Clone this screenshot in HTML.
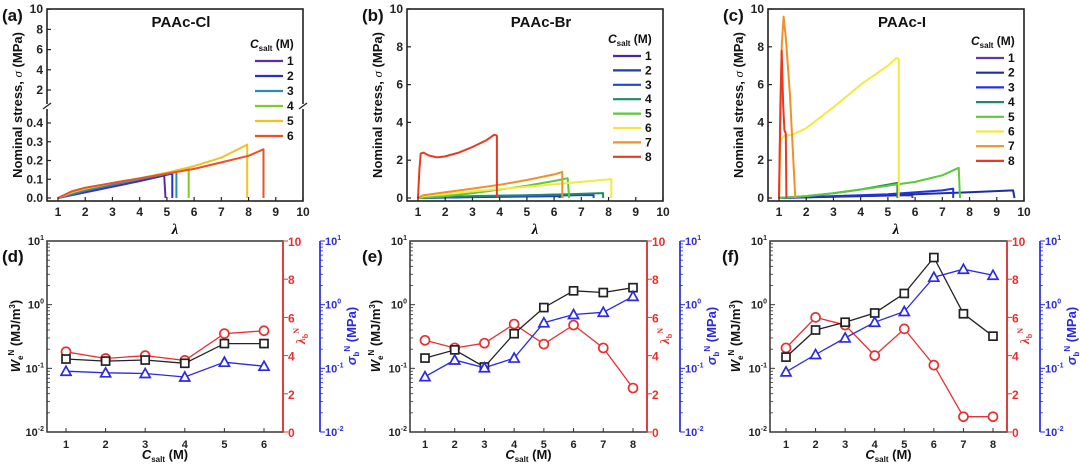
<!DOCTYPE html>
<html><head><meta charset="utf-8"><style>
html,body{margin:0;padding:0;background:#fff}
svg{display:block;font-family:"Liberation Sans",Arial,sans-serif}
</style></head><body>
<svg id="fig" width="1080" height="465" viewBox="0 0 1080 465" xmlns="http://www.w3.org/2000/svg"></svg>
<script>
// ---------- DATA ----------
const legendA = ['1','2','3','4','5','6'];
const colorsA = ['#5a2ca8','#2434c0','#2a8cb4','#7ccc30','#f2c21e','#ea5226'];
const curvesA = [
 [[1,0],[2,0.03],[3,0.06],[4,0.09],[4.9,0.12],[4.95,0]],
 [[1,0],[2,0.035],[3,0.065],[4,0.095],[5.2,0.13],[5.2,0]],
 [[1,0],[2,0.04],[3,0.07],[4,0.1],[5.35,0.14],[5.35,0]],
 [[1,0],[1.5,0.03],[2,0.05],[3,0.08],[4,0.105],[5,0.135],[5.8,0.16],[5.8,0]],
 [[1,0],[1.5,0.03],[2,0.05],[3,0.08],[4,0.105],[5,0.135],[6,0.17],[7,0.215],[7.95,0.285],[7.95,0]],
 [[1,0],[1.5,0.035],[2,0.055],[3,0.08],[4,0.105],[5,0.13],[6,0.155],[7,0.19],[8,0.225],[8.55,0.26],[8.55,0]]
];
const legendB = ['1','2','3','4','5','6','7','8'];
const colorsB = ['#4a2a9c','#1c3ea8','#2242e0','#1f8a6a','#5cc83a','#f2ea40','#f0902a','#e83a20'];
const curvesB = [
 [[1,0],[3,0.08],[5,0.14],[6.2,0.18],[6.2,0]],
 [[1,0],[3,0.05],[5,0.08],[6.3,0.1],[6.3,0]],
 [[1,0],[4,0.08],[6,0.13],[7.45,0.16],[7.45,0]],
 [[1,0],[3,0.1],[5,0.15],[6.5,0.2],[7.8,0.26],[7.8,0]],
 [[1,0],[2,0.1],[3,0.25],[4,0.45],[5,0.65],[6,0.9],[6.5,1.05],[6.55,0]],
 [[1,0],[1.2,0.1],[3,0.35],[5,0.6],[7,0.85],[8.1,1.0],[8.1,0]],
 [[1,0],[1.2,0.15],[2,0.3],[3,0.5],[4,0.7],[5,0.95],[6,1.25],[6.3,1.38],[6.3,0]],
 [[1,0],[1.05,1.5],[1.1,2.35],[1.2,2.4],[1.4,2.25],[1.7,2.15],[2,2.2],[2.5,2.4],[3,2.7],[3.5,3.05],[3.8,3.35],[3.9,3.3],[3.9,0]]
];
const colorsC = ['#5a3aa8','#1c2ea0','#2234e0','#1f8a6a','#5cc83a','#f2ea40','#f0902a','#e83a20'];
const curvesC = [
 [[1,0],[3,0.08],[5.9,0.15],[5.9,0]],
 [[1,0],[4,0.1],[6,0.2],[8,0.3],[9.6,0.4],[9.65,0]],
 [[1,0],[3,0.1],[5,0.2],[7,0.4],[7.4,0.5],[7.4,0]],
 [[1,0],[2,0.1],[3,0.25],[4,0.45],[5.35,0.8],[5.35,0]],
 [[1,0],[2,0.1],[3,0.25],[4,0.45],[5,0.65],[6,0.85],[7,1.2],[7.6,1.6],[7.65,0]],
 [[1,0],[1.05,3],[1.2,3.3],[1.5,3.35],[2,3.7],[3,4.8],[4,6],[5,7],[5.3,7.4],[5.4,7.35],[5.4,0]],
 [[1,0],[1.1,8],[1.17,9.6],[1.25,8.5],[1.4,5.5],[1.6,0]],
 [[1,0],[1.05,5],[1.1,7.8],[1.15,5],[1.2,3.6],[1.25,3.4],[1.27,0]]
];
const catsD = [1,2,3,4,5,6];
const weD = [0.14,0.13,0.135,0.12,0.245,0.245];
const lamD = [4.2,3.85,4.0,3.75,5.15,5.3];
const sigD = [0.09,0.085,0.083,0.073,0.125,0.108];
const catsE = [1,2,3,4,5,6,7,8];
const weE = [0.145,0.195,0.105,0.35,0.9,1.65,1.55,1.85];
const lamE = [4.8,4.4,4.65,5.65,4.6,5.6,4.4,2.3];
const sigE = [0.074,0.135,0.102,0.145,0.52,0.7,0.76,1.35];
const catsF = [1,2,3,4,5,6,7,8];
const weF = [0.15,0.4,0.53,0.74,1.5,5.5,0.72,0.32];
const lamF = [4.4,6.0,5.6,4.0,5.4,3.5,0.8,0.8];
const sigF = [0.088,0.165,0.3,0.53,0.78,2.7,3.6,2.9];
const xTicksTop = [1,2,3,4,5,6,7,8,9,10];

// ---------- HELPERS ----------
const svg = document.getElementById('fig');
const NS = 'http://www.w3.org/2000/svg';
function mk(tag, attrs, parent, txt){
  const e = document.createElementNS(NS, tag);
  for (const k in attrs) e.setAttribute(k, attrs[k]);
  if (txt !== undefined) e.innerHTML = txt;
  (parent||svg).appendChild(e); return e;
}
function grp(name){ const g = mk('g',{});   return g; }

// ---------- TOP PANELS ----------
function topPanel(off, letter, title, curves, colors, labels, yMode, legY0, legStep, legX){
  const g = grp('panel-' + letter);
  const L = 47+off, R = 303+off, T = 9, B = 201;
  const xs = v => 58+off + (v-1)*(245/9);
  let ys;
  if (yMode === 'break') ys = v => v <= 0.45 ? 198 - v*187.5 : 90 - (v-2)*10.1;
  else ys = v => 198 - v*18.9;
  curves.forEach((c,i)=>{
    const d = c.map((p,j)=>(j?'L':'M')+xs(p[0]).toFixed(1)+','+ys(p[1]).toFixed(1)).join('');
    const p = mk('path',{d:d,fill:'none',stroke:colors[i],'stroke-width':2,'stroke-linejoin':'round'},g);
    
    
  });
  mk('rect',{x:L,y:T,width:R-L,height:B-T,fill:'none',stroke:'#222','stroke-width':1.6},g);
  xTicksTop.forEach(v=>{
    mk('line',{x1:xs(v),x2:xs(v),y1:B,y2:B-4,stroke:'#222','stroke-width':1.2},g);
    mk('text',{x:xs(v),y:B+15,'font-size':12,'font-weight':'bold','text-anchor':'middle',fill:'#222'},g,v);
  });
  let yt = yMode === 'break' ? [['0.0',0],['0.1',0.1],['0.2',0.2],['0.3',0.3],['0.4',0.4],['2',2],['4',4],['6',6],['8',8],['10',10]]
                             : [['0',0],['2',2],['4',4],['6',6],['8',8],['10',10]];
  yt.forEach(t=>{
    const y = ys(t[1]);
    mk('line',{x1:L,x2:L+4,y1:y,y2:y,stroke:'#222','stroke-width':1.2},g);
    mk('text',{x:L-4,y:y+4,'font-size':12,'font-weight':'bold','text-anchor':'end',fill:'#222'},g,t[0]);
  });
  if (yMode === 'break'){
    mk('rect',{x:L-3,y:104,width:6,height:5,fill:'#fff'},g);
    mk('rect',{x:R-3,y:104,width:6,height:5,fill:'#fff'},g);
    mk('line',{x1:L-4,x2:L+4,y1:109,y2:103,stroke:'#222','stroke-width':1.3},g);
    mk('line',{x1:R-4,x2:R+4,y1:109,y2:103,stroke:'#222','stroke-width':1.3},g);
  }
  mk('text',{x:off+2,y:21,'font-size':17,'font-weight':'bold',fill:'#111'},g,'('+letter+')');
  mk('text',{x:(L+R)/2+6,y:27,'font-size':15,'font-weight':'bold','text-anchor':'middle',fill:'#111'},g,title);
  mk('text',{x:off+22,y:105,'font-size':13,'font-weight':'bold','text-anchor':'middle',fill:'#111',transform:`rotate(-90 ${off+22} 105)`},g,'Nominal stress, <tspan font-style="italic" font-weight="normal" font-family="Liberation Serif">σ</tspan> (MPa)');
  mk('text',{x:(L+R)/2,y:234,'font-size':15,'font-weight':'bold','font-style':'italic','text-anchor':'middle',fill:'#111','font-family':'Liberation Serif'},g,'λ');
  const lg = grp('legend-'+letter); g.appendChild(lg);
  mk('text',{x:legX-5,y:legY0-13,'font-size':12,'font-weight':'bold',fill:'#111'},lg,'<tspan font-style="italic">C</tspan><tspan font-size="8" dy="3">salt</tspan><tspan dy="-3"> (M)</tspan>');
  labels.forEach((lb,i)=>{
    const y = legY0 + i*legStep;
    mk('line',{x1:legX,x2:legX+28,y1:y,y2:y,stroke:colors[i],'stroke-width':2.2},lg);
    mk('text',{x:legX+32,y:y+4,'font-size':12,'font-weight':'bold',fill:'#111'},lg,lb);
  });
}
topPanel(0,'a','PAAc-Cl',curvesA,colorsA,legendA,'break',61,15,255);
topPanel(360,'b','PAAc-Br',curvesB,colorsB,legendB,'lin',56,14.4,613);
topPanel(721,'c','PAAc-I',curvesC,colorsC,legendB,'lin',58,14.7,976);

// ---------- BOTTOM PANELS ----------
function botPanel(off, letter, cats, we, lam, sig, L, R, x1px, xnpx, blueX){
  const g = grp('panel-' + letter);
  const T = 241, B = 432;
  const n = cats.length;
  const xs = v => x1px + (v-cats[0])*(xnpx-x1px)/(cats[n-1]-cats[0]);
  const yl = v => B - (Math.log10(v)+2)*(B-T)/3;
  const yr = v => B - v*(B-T)/10;
  mk('rect',{x:L,y:T,width:R-L,height:B-T,fill:'none',stroke:'#333','stroke-width':1.5},g);
  mk('line',{x1:R,x2:R,y1:T,y2:B,stroke:'#e83030','stroke-width':1.7},g);
  mk('line',{x1:blueX,x2:blueX,y1:T,y2:B,stroke:'#2a2ae0','stroke-width':1.7},g);
  for (let d=-2; d<=1; d++){
    const y = yl(Math.pow(10,d));
    mk('line',{x1:L,x2:L+5,y1:y,y2:y,stroke:'#333'},g);
    mk('text',{x:L-3,y:y+4,'font-size':11,'font-weight':'bold','text-anchor':'end',fill:'#222'},g,'10<tspan font-size="7" dy="-5">'+d+'</tspan>');
    mk('line',{x1:blueX,x2:blueX+5,y1:y,y2:y,stroke:'#2a2ae0'},g);
    mk('text',{x:blueX+5,y:y+4,'font-size':11,'font-weight':'bold',fill:'#2a2ae0'},g,'10<tspan font-size="7" dy="-5">'+d+'</tspan>');
    if (d<1) for (let m=2;m<10;m++){
      const ym = yl(m*Math.pow(10,d));
      mk('line',{x1:L,x2:L+3,y1:ym,y2:ym,stroke:'#333','stroke-width':0.8},g);
      mk('line',{x1:blueX,x2:blueX+3,y1:ym,y2:ym,stroke:'#2a2ae0','stroke-width':0.8},g);
    }
  }
  for (let v=0; v<=10; v+=2){
    const y = yr(v);
    mk('line',{x1:R,x2:R+5,y1:y,y2:y,stroke:'#e83030'},g);
    mk('text',{x:R+5,y:y+5,'font-size':12,'font-weight':'bold',fill:'#e83030'},g,v);
  }
  cats.forEach(c=>{
    mk('line',{x1:xs(c),x2:xs(c),y1:B,y2:B-4,stroke:'#333'},g);
    mk('text',{x:xs(c),y:B+16,'font-size':11,'font-weight':'bold','text-anchor':'middle',fill:'#222'},g,c);
  });
  function series(vals, yf, color, shape, name){
    const sg = grp('series-'+name+'-'+letter); g.appendChild(sg);
    const d = cats.map((c,i)=>(i?'L':'M')+xs(c).toFixed(1)+','+yf(vals[i]).toFixed(1)).join('');
    mk('path',{d:d,fill:'none',stroke:color,'stroke-width':1.3},sg);
    cats.forEach((c,i)=>{
      const x = xs(c), y = yf(vals[i]); let m;
      if (shape==='sq') m = mk('rect',{x:x-4,y:y-4,width:8,height:8,fill:'#fff',stroke:color,'stroke-width':1.7},sg);
      else if (shape==='ci') m = mk('circle',{cx:x,cy:y,r:4.5,fill:'#fff',stroke:color,'stroke-width':1.7},sg);
      else m = mk('path',{d:`M${x},${y-5}L${x+5},${y+4}L${x-5},${y+4}Z`,fill:'#fff',stroke:color,'stroke-width':1.7},sg);
      
      
    });
  }
  series(lam, yr, '#e83030', 'ci', 'lambda-b');
  series(we, yl, '#222', 'sq', 'work-we');
  series(sig, yl, '#2a2ae0', 'tri', 'sigma-b');
  mk('text',{x:off+2,y:262,'font-size':17,'font-weight':'bold',fill:'#111'},g,'('+letter+')');
  mk('text',{x:off+20,y:336,'font-size':13,'font-weight':'bold','text-anchor':'middle',fill:'#111',transform:`rotate(-90 ${off+20} 336)`},g,'<tspan font-style="italic">W</tspan><tspan font-size="8" dy="3">e</tspan><tspan font-size="8" dy="-9">N</tspan><tspan dy="6"> (MJ/m</tspan><tspan font-size="8" dy="-5">3</tspan><tspan dy="5">)</tspan>');
  mk('text',{x:R+22,y:336,'font-size':13,'font-weight':'bold','text-anchor':'middle',fill:'#e83030','font-family':'Liberation Serif',transform:`rotate(-90 ${R+22} 336)`},g,'<tspan font-style="italic">λ</tspan><tspan font-size="8" dy="3">b</tspan><tspan font-size="8" dy="-9">N</tspan>');
  mk('text',{x:blueX+36,y:336,'font-size':13,'font-weight':'bold','text-anchor':'middle',fill:'#2a2ae0',transform:`rotate(-90 ${blueX+36} 336)`},g,'<tspan font-style="italic">σ</tspan><tspan font-size="8" dy="3">b</tspan><tspan font-size="8" dy="-9">N</tspan><tspan dy="6"> (MPa)</tspan>');
  mk('text',{x:(L+R)/2,y:459,'font-size':13,'font-weight':'bold','text-anchor':'middle',fill:'#111'},g,'<tspan font-style="italic">C</tspan><tspan font-size="8" dy="3">salt</tspan><tspan dy="-3"> (M)</tspan>');
}
botPanel(0,'d',catsD,weD,lamD,sigD,47,283,66,264,320);
botPanel(360,'e',catsE,weE,lamE,sigE,410,647,425,633,680);
botPanel(720,'f',catsF,weF,lamF,sigF,770,1007,786,993,1040);
</script>
</body></html>
